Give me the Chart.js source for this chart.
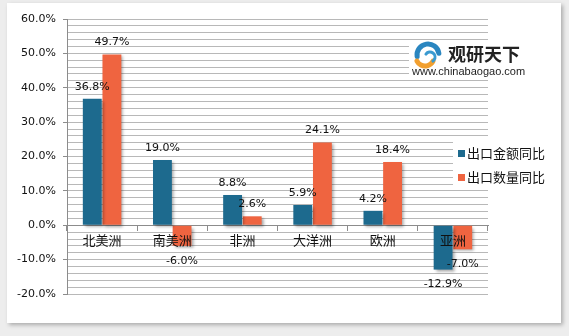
<!DOCTYPE html>
<html>
<head>
<meta charset="utf-8">
<script src="https://cdn.jsdelivr.net/npm/chart.js@4/dist/chart.umd.min.js"></script>
<style>
  html, body { margin: 0; padding: 0; }
  body { width: 569px; height: 336px; background: #ededed; position: relative; overflow: hidden; }
  #card { position: absolute; left: 7px; top: 3px; width: 554px; height: 320px; background: #fff;
          box-shadow: 2px 2px 4px rgba(0,0,0,0.28); }
  canvas { display: block; }
</style>
</head>
<body>
<div id="card"><canvas id="barChart" width="554" height="320"></canvas></div>
<script>
const regions = ['北美洲', '南美洲', '非洲', '大洋洲', '欧洲', '亚洲'];
const valueGrowth = [36.8, 19.0, 8.8, 5.9, 4.2, -12.9];
const volumeGrowth = [49.7, -6.0, 2.6, 24.1, 18.4, -7.0];
const seriesNames = ['出口金额同比', '出口数量同比'];
const seriesColors = ['#1d6a8e', '#ef6440'];
const yMin = -20, yMax = 60, yStep = 2;

const labelFont = '11px "DejaVu Sans", sans-serif';

// soft shadow under bars
const barShadow = {
    id: 'barShadow',
    beforeDatasetsDraw(chart) {
        const ctx = chart.ctx;
        ctx.save();
        ctx.shadowColor = 'rgba(0,0,0,0.35)';
        ctx.shadowBlur = 3;
        ctx.shadowOffsetX = 2;
        ctx.shadowOffsetY = 2;
    },
    afterDatasetsDraw(chart) {
        chart.ctx.restore();
    }
};

// value labels above / below bars
const valueLabels = {
    id: 'valueLabels',
    afterDatasetsDraw(chart) {
        const ctx = chart.ctx;
        ctx.save();
        ctx.font = labelFont;
        ctx.fillStyle = '#111';
        ctx.textAlign = 'center';
        ctx.textBaseline = 'middle';
        chart.data.datasets.forEach((ds, i) => {
            chart.getDatasetMeta(i).data.forEach((bar, j) => {
                const v = ds.data[j];
                const y = v >= 0 ? bar.y - 12 : bar.y + 15;
                ctx.fillText(v.toFixed(1) + '%', bar.x, y);
            });
        });
        ctx.restore();
    }
};

// legend and watermark drawn over the plot area
const overlay = {
    id: 'overlay',
    afterDraw(chart) {
        const ctx = chart.ctx;
        ctx.save();
        // legend
        ctx.fillStyle = '#fff';
        ctx.fillRect(446, 138, 104, 48);
        ctx.font = '13px "Noto Sans CJK SC", sans-serif';
        ctx.textBaseline = 'middle';
        seriesNames.forEach((name, i) => {
            const y = 150 + i * 24;
            ctx.fillStyle = seriesColors[i];
            ctx.fillRect(451, y - 3, 7, 7);
            ctx.fillStyle = '#111';
            ctx.fillText(name, 460, y);
        });
        // watermark
        ctx.fillStyle = '#fff';
        ctx.fillRect(402, 37, 120, 40);
        ctx.lineCap = 'round';
        ctx.lineWidth = 5;
        ctx.strokeStyle = '#2a86c0';
        ctx.beginPath();
        ctx.arc(421, 52, 11, Math.PI * 0.95, Math.PI * 1.95);
        ctx.stroke();
        ctx.strokeStyle = '#f2a030';
        ctx.beginPath();
        ctx.arc(418, 54, 9, Math.PI * 0.15, Math.PI * 0.85);
        ctx.stroke();
        ctx.strokeStyle = '#3a9ad0';
        ctx.lineWidth = 3;
        ctx.beginPath();
        ctx.arc(423, 54, 5, Math.PI * 1.2, Math.PI * 2.3);
        ctx.stroke();
        ctx.fillStyle = '#222';
        ctx.font = 'bold 18px "Noto Sans CJK SC", sans-serif';
        ctx.fillText('观研天下', 441, 51);
        ctx.font = '11px "Liberation Sans", Arial, sans-serif';
        ctx.fillText('www.chinabaogao.com', 405, 69);
        ctx.restore();
    }
};

new Chart(document.getElementById('barChart').getContext('2d'), {
    type: 'bar',
    data: {
        labels: regions,
        datasets: [
            { label: seriesNames[0], data: valueGrowth, backgroundColor: seriesColors[0] },
            { label: seriesNames[1], data: volumeGrowth, backgroundColor: seriesColors[1] }
        ]
    },
    options: {
        responsive: false,
        animation: false,
        layout: { padding: { left: 0, top: 16, right: 73, bottom: 29 } },
        datasets: { bar: { categoryPercentage: 0.56, barPercentage: 0.96 } },
        plugins: { legend: { display: false }, tooltip: { enabled: false } },
        scales: {
            x: {
                position: { y: 0 },
                grid: { drawOnChartArea: false, drawTicks: true, tickLength: 5, color: '#8c8c8c' },
                border: { color: '#8c8c8c' },
                ticks: { z: 1, padding: 2, color: '#111', font: { family: '"Noto Sans CJK SC", sans-serif', size: 13 } }
            },
            y: {
                min: yMin,
                max: yMax,
                afterFit: s => { s.width = 60; },
                grid: {
                    color: '#b8b8b8',
                    tickLength: 4,
                    tickColor: c => (c.tick && c.tick.value % 10 === 0) ? '#8c8c8c' : 'rgba(0,0,0,0)'
                },
                border: { color: '#8c8c8c' },
                ticks: {
                    stepSize: yStep,
                    autoSkip: false,
                    padding: 7,
                    color: '#111',
                    font: { family: '"DejaVu Sans", sans-serif', size: 11 },
                    callback: v => v % 10 === 0 ? v.toFixed(1) + '%' : ''
                }
            }
        }
    },
    plugins: [barShadow, valueLabels, overlay]
});
</script>
</body>
</html>
